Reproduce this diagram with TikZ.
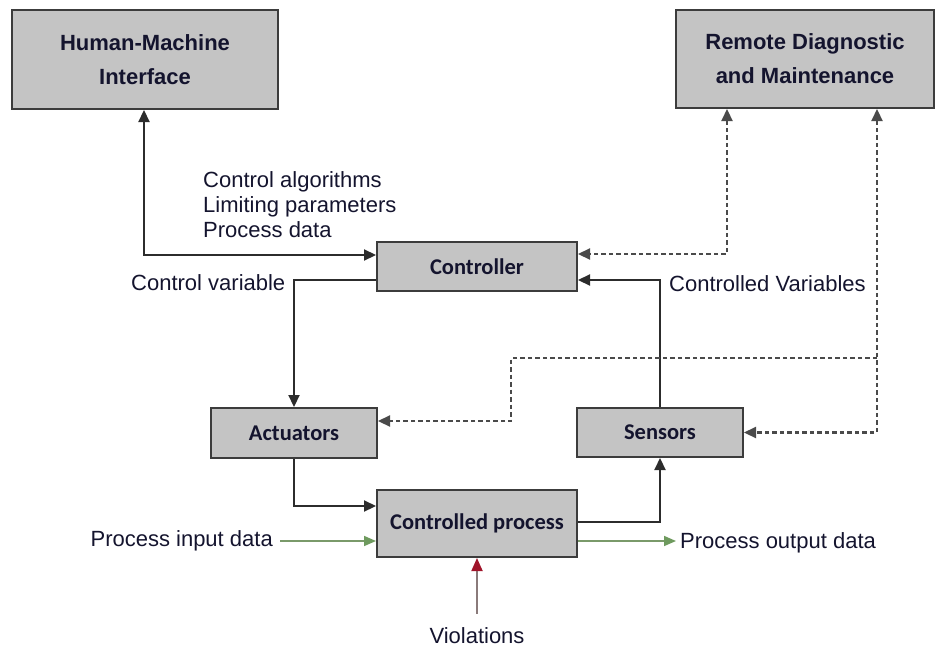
\documentclass[tikz,border=0pt]{standalone}
\usepackage{fontspec}
\setmainfont{Liberation Sans}
\newfontfamily\calfont{Carlito}
\usetikzlibrary{arrows.meta,calc}
\definecolor{boxfill}{HTML}{C4C4C4}
\definecolor{boxline}{HTML}{3C3C3C}
\definecolor{linec}{HTML}{2C2C2C}
\definecolor{dashc}{HTML}{4A4A4A}
\definecolor{txt}{HTML}{14142E}
\definecolor{grn}{HTML}{7A9A6A}
\definecolor{grnhead}{HTML}{6E9A5E}
\definecolor{redhead}{HTML}{A0142A}
\definecolor{redline}{HTML}{8A7A7A}
\tikzset{
  bigbox/.style={draw=boxline, fill=boxfill, line width=2pt, inner sep=0pt, align=center,
    text=txt, font={\fontsize{22}{34}\selectfont\bfseries}},
  smallbox/.style={draw=boxline, fill=boxfill, line width=2pt, inner sep=0pt,
    text=txt, font={\calfont\fontsize{22.5}{26}\selectfont\bfseries}},
  lbl/.style={inner sep=0pt, text=txt, font={\fontsize{22}{25}\selectfont}},
  conn/.style={draw=linec, line width=2.2pt, >={Triangle[length=12pt,width=11pt]}},
  dashconn/.style={draw=dashc, line width=2.2pt, dash pattern=on 4.5pt off 3pt,
    >={Triangle[length=12pt,width=11pt]}},
  gconn/.style={draw=grn, line width=1.6pt, -{Triangle[length=12pt,width=10pt,color=grnhead]}},
  rconn/.style={draw=redline, line width=1.8pt, -{Triangle[length=13pt,width=11pt,color=redhead]}}
}
\begin{document}
\begin{tikzpicture}[x=1pt,y=-1pt]
\useasboundingbox (0,0) rectangle (935,648);
% boxes
\node[bigbox, minimum width=266pt, minimum height=99pt] (hmi) at (145,59.5) {Human-Machine\\Interface};
\node[bigbox, minimum width=258pt, minimum height=98pt] (rdm) at (805,59) {Remote Diagnostic\\and Maintenance};
\node[smallbox, minimum width=200pt, minimum height=49pt] (ctrl) at (477,266.5) {Controller};
\node[smallbox, minimum width=166pt, minimum height=50pt] (act) at (294,433) {Actuators};
\node[smallbox, minimum width=166pt, minimum height=49pt] (sens) at (660,432.5) {Sensors};
\node[smallbox, minimum width=200pt, minimum height=67pt] (proc) at (477,523.5) {Controlled process};
% labels
\node[lbl, anchor=base west] (ca1) at (203,187) {Control algorithms};
\node[lbl, anchor=base west] (ca2) at (203,212) {Limiting parameters};
\node[lbl, anchor=base west] (ca3) at (203,237) {Process data};
\node[lbl, anchor=base west] (cv) at (131,290) {Control variable};
\node[lbl, anchor=base west] (cvs) at (669,291) {Controlled Variables};
\node[lbl, anchor=base east, inner xsep=7pt] (pin) at (280,546) {Process input data};
\node[lbl, anchor=base west, inner xsep=4pt] (pout) at (676,548) {Process output data};
\node[lbl, anchor=base, inner ysep=13pt] (viol) at (477,643) {Violations};
% junction coordinates
\coordinate (j1) at (144,255);
\coordinate (j2) at (0,280);
\coordinate (j4) at (727,254);
\coordinate (j5) at (877,358);
\coordinate (j6) at (511,421);
\coordinate (j7) at (0,506);
\coordinate (j8) at (0,522);
\coordinate (j9) at (0,541);
% solid connectors
\draw[conn,<->] (hmi.south -| j1) |- (ctrl.west |- j1);
\draw[conn,->] (ctrl.west |- j2) -| (act.north);
\draw[conn,->] (sens.north) |- (ctrl.east |- j2);
\draw[conn,->] (act.south) |- (proc.west |- j7);
\draw[conn,->] (proc.east |- j8) -| (sens.south);
% dashed connectors
\draw[dashconn,<->] (rdm.south -| j4) |- (ctrl.east |- j4);
\draw[dashconn,<->] (rdm.south -| j5) |- (sens.east);
\draw[dashconn,->] (j5) -| (j6) -- (act.east |- j6);
% process in/out
\draw[gconn] (pin.east |- j9) -- (proc.west |- j9);
\draw[gconn] (proc.east |- j9) -- (pout.west |- j9);
\draw[rconn] (viol.north) -- (proc.south);
\end{tikzpicture}
\end{document}
